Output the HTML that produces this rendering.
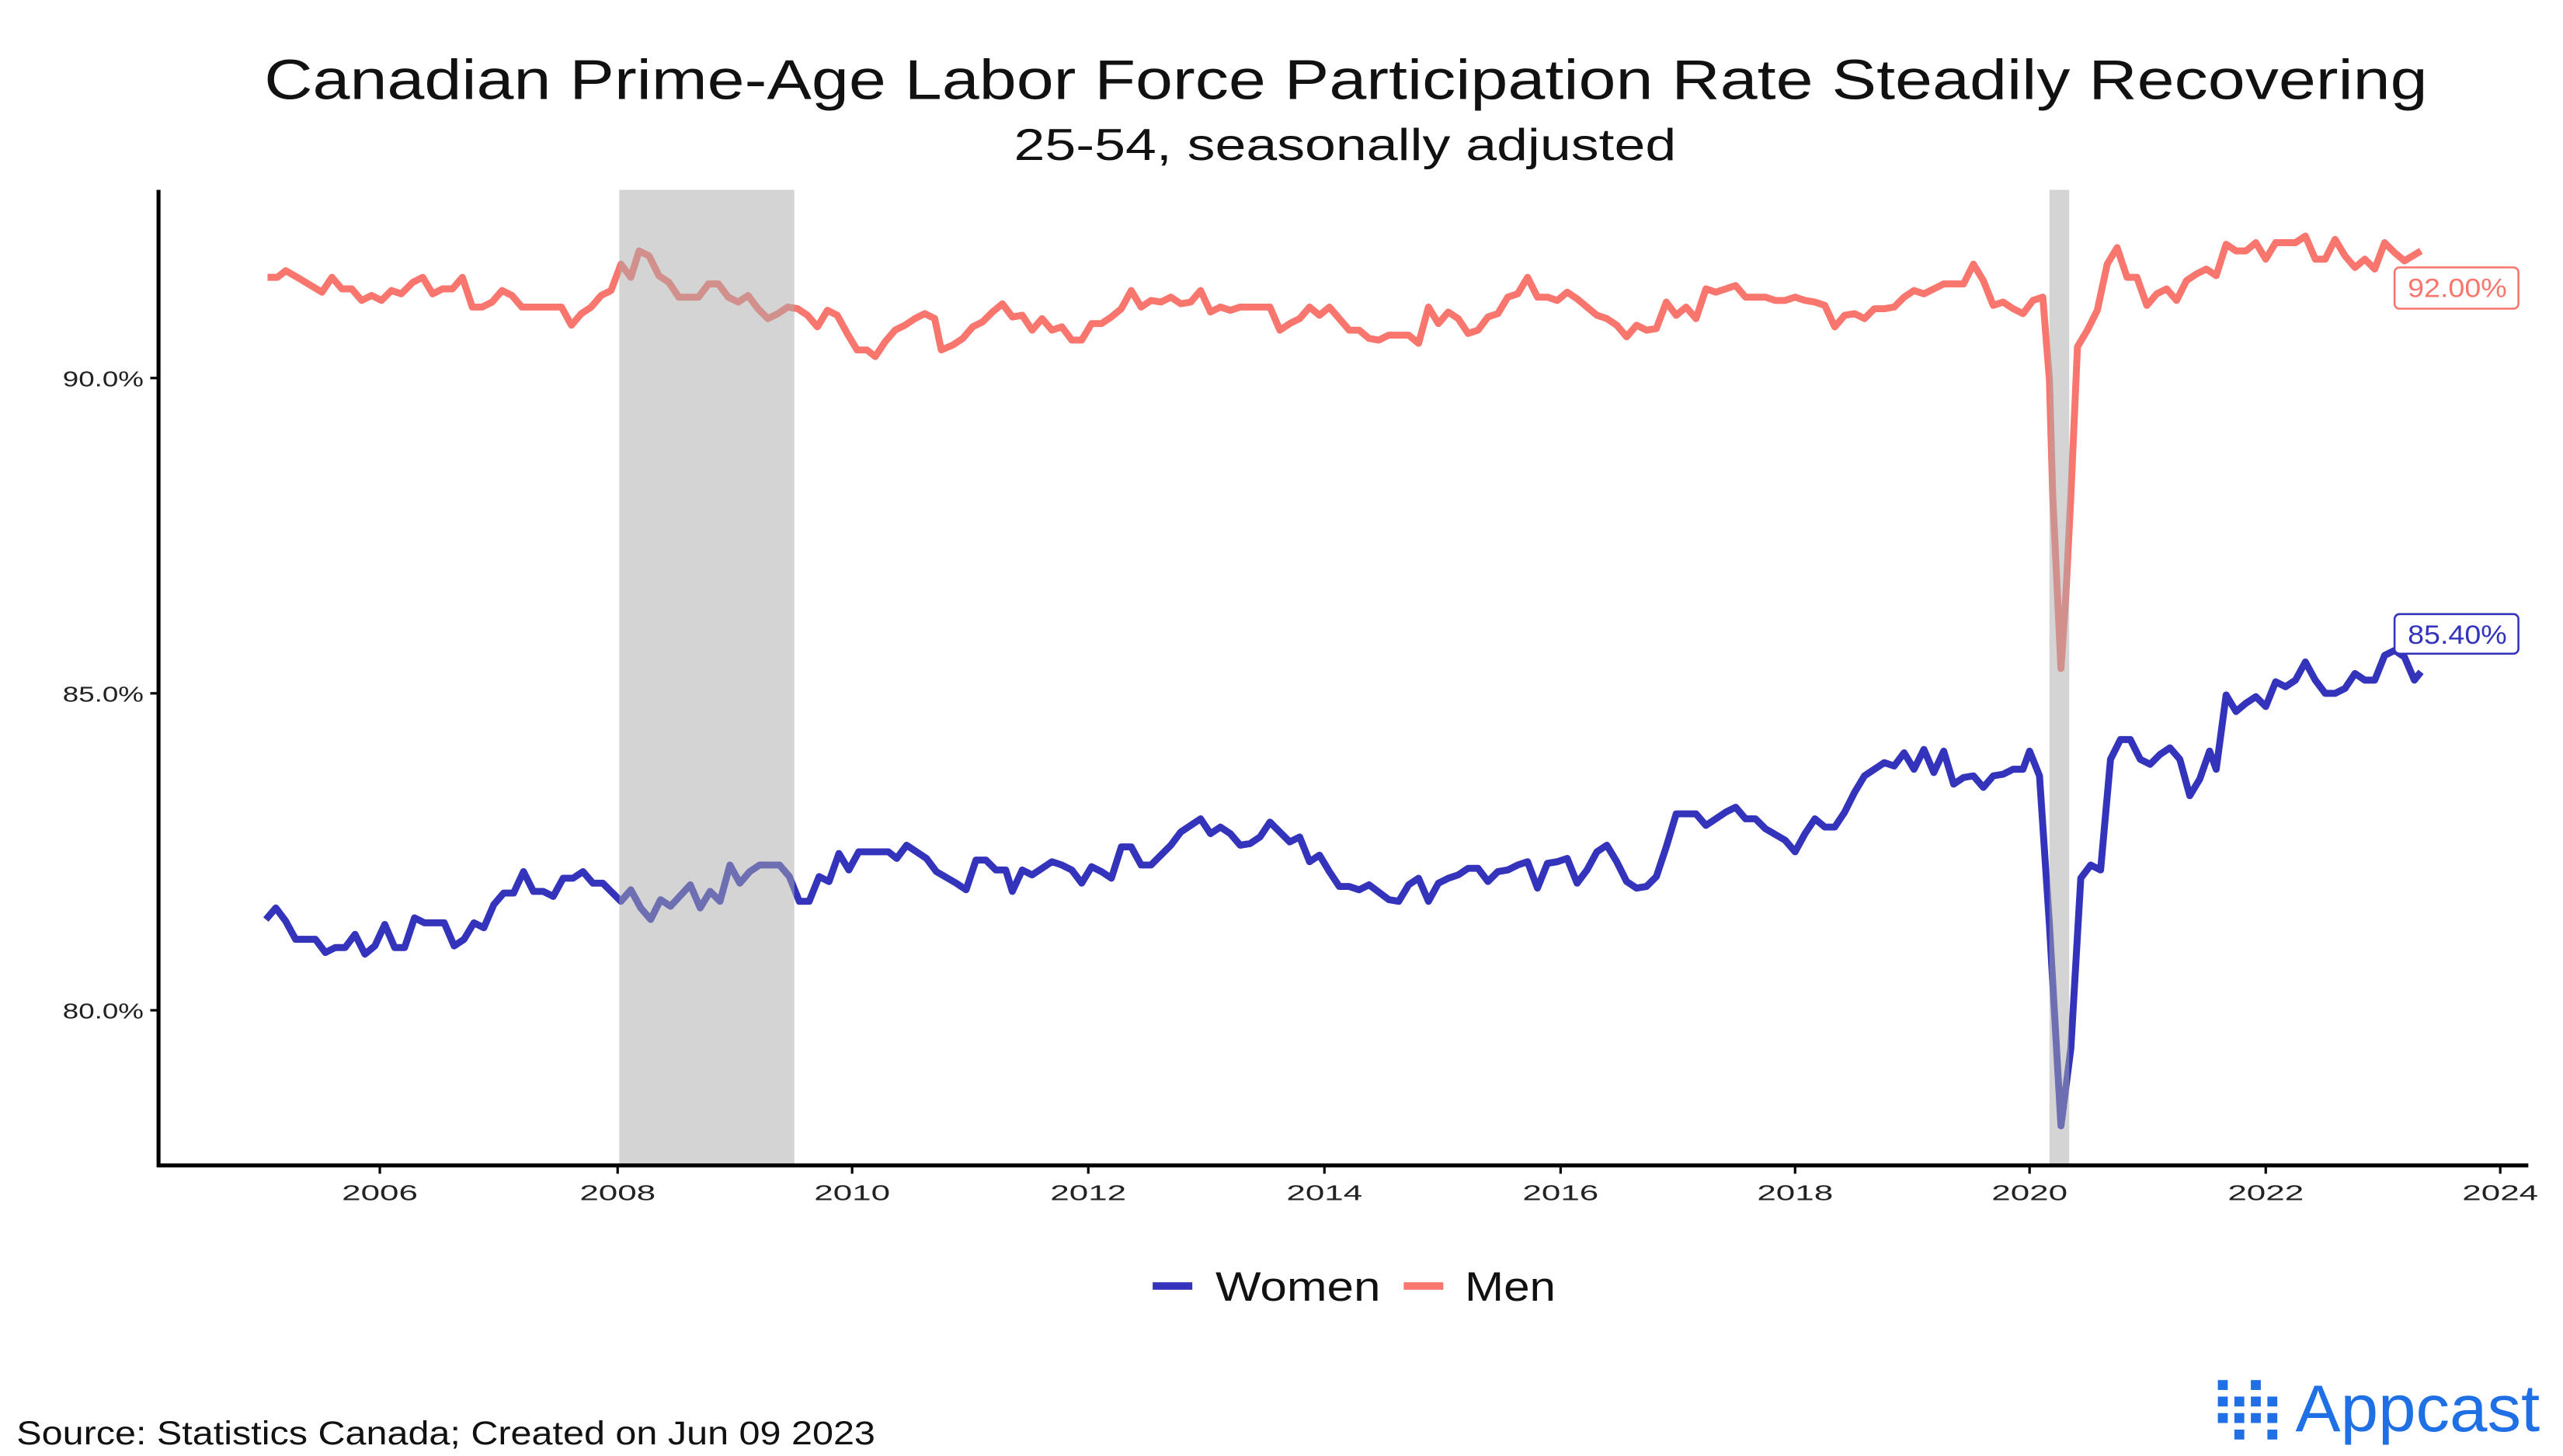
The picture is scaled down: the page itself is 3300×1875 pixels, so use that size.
<!DOCTYPE html>
<html><head><meta charset="utf-8"><style>
html,body{margin:0;padding:0;background:#fff;}
svg{display:block;}
text{font-family:"Liberation Sans",sans-serif;}
</style></head><body>
<svg width="3300" height="1875" viewBox="0 0 1552 882" preserveAspectRatio="none" xmlns="http://www.w3.org/2000/svg">
<rect width="1552" height="882" fill="#fff"/>
<text x="160" y="60" font-size="34" fill="#111" textLength="1310" lengthAdjust="spacingAndGlyphs">Canadian Prime-Age Labor Force Participation Rate Steadily Recovering</text>
<text x="614" y="97" font-size="27" fill="#111" textLength="401" lengthAdjust="spacingAndGlyphs">25-54, seasonally adjusted</text>

<polyline fill="none" stroke="#F8766D" stroke-width="4.2" stroke-linejoin="round" points="162,168 168,168 173,164 180,168 195,177 201,168 207,175 213,175 219,182 225,179 231,182 237,176 243,178 250,171 256,168 262,178 268,175 274,175 280,168 286,186 292,186 298,183 304,176 310,179 316,186 322,186 340,186 346,197 352,190 358,186 364,179 370,176 376,160 382,168 387,152 393,155 399,167 405,171 411,180 423,180 429,172 435,172 441,180 447,183 453,179 459,187 465,193 471,190 477,186 483,187 489,191 495,198 501,188 507,191 513,202 519,212 525,212 530,216 536,207 542,200 548,197 554,193 560,190 566,193 570,212 577,209 583,205 589,198 595,195 601,189 607,184 613,192 619,191 625,200 631,193 637,200 643,198 649,206 655,206 661,196 667,196 673,192 679,187 685,176 691,186 697,182 703,183 709,180 715,184 721,183 727,176 733,189 739,186 745,188 751,186 769,186 775,200 781,196 787,193 793,186 799,191 805,186 811,193 817,200 823,200 829,205 835,206 841,203 853,203 859,208 865,186 871,196 877,189 883,193 889,202 895,200 901,192 907,190 913,180 919,178 925,168 931,180 937,180 943,182 949,177 955,181 961,186 967,191 973,193 979,197 985,204 991,197 997,200 1003,199 1009,183 1015,191 1021,186 1027,193 1033,175 1039,177 1045,175 1051,173 1057,180 1063,180 1069,180 1075,182 1081,182 1087,180 1093,182 1099,183 1105,185 1111,198 1117,191 1123,190 1129,193 1135,187 1141,187 1147,186 1153,180 1159,176 1165,178 1171,175 1177,172 1183,172 1189,172 1195,160 1201,170 1207,185 1213,183 1219,187 1225,190 1231,182 1237,180 1241,230 1243,300 1248,405 1251,360 1254,300 1258,210 1264,200 1270,188 1276,160 1282,150 1288,168 1294,168 1300,185 1306,178 1312,175 1318,182 1324,170 1330,166 1336,163 1342,167 1348,148 1354,152 1360,152 1366,147 1372,157 1378,147 1384,147 1390,147 1396,143 1402,157 1408,157 1414,145 1420,155 1426,162 1432,157 1438,163 1444,147 1450,153 1456,158 1466,152"/>

<polyline fill="none" stroke="#3333BB" stroke-width="4.2" stroke-linejoin="round" points="161,557 167,550 173,558 179,569 191,569 197,577 203,574 209,574 215,566 221,578 227,573 233,560 239,574 245,574 251,556 257,559 269,559 275,573 281,569 287,559 293,562 299,548 305,541 311,541 317,528 323,540 329,540 335,543 341,532 347,532 353,528 359,535 365,535 376,546 382,539 388,550 394,557 400,545 406,549 418,536 424,550 430,540 436,546 442,524 448,535 454,528 460,524 472,524 478,531 484,546 490,546 496,531 502,534 508,517 514,527 520,516 538,516 543,520 549,512 555,516 561,520 567,528 579,535 585,539 591,521 597,521 603,527 609,527 613,540 619,527 625,530 631,526 637,522 643,524 649,527 655,535 661,525 667,528 673,532 679,513 685,513 691,524 697,524 703,518 709,512 715,504 721,500 727,496 733,505 739,501 745,505 751,512 757,511 763,507 769,498 775,504 781,510 787,507 793,522 799,518 805,528 811,537 817,537 823,539 829,536 841,545 847,546 853,536 859,532 865,546 871,535 877,532 883,530 889,526 895,526 901,534 907,528 913,527 919,524 925,522 931,538 937,523 943,522 949,520 955,535 961,527 967,516 973,512 979,522 985,534 991,538 997,537 1003,531 1009,513 1015,493 1027,493 1033,500 1045,492 1051,489 1057,496 1063,496 1069,502 1081,509 1087,516 1093,505 1099,496 1105,501 1111,501 1117,492 1123,480 1129,470 1135,466 1141,462 1147,464 1153,456 1159,466 1165,454 1171,468 1177,455 1183,475 1189,471 1195,470 1201,477 1207,470 1213,469 1219,466 1225,466 1229,455 1235,470 1241,560 1248,682 1254,635 1260,532 1266,524 1272,527 1278,460 1284,448 1290,448 1296,460 1302,463 1308,457 1314,453 1320,460 1326,482 1332,472 1338,455 1342,466 1348,421 1354,431 1360,426 1366,422 1372,428 1378,413 1384,416 1390,412 1396,401 1402,412 1408,420 1414,420 1420,417 1426,408 1432,412 1438,412 1444,397 1450,394 1456,398 1462,412 1466,407"/>

<rect x="375" y="115" width="106" height="591" fill="#a9a9a9" opacity="0.5"/>
<rect x="1241" y="115" width="12" height="591" fill="#a9a9a9" opacity="0.5"/>

<line x1="96" y1="115" x2="96" y2="707" stroke="#000" stroke-width="2.4"/>
<line x1="95" y1="706" x2="1531" y2="706" stroke="#000" stroke-width="2.4"/>
<g stroke="#000" stroke-width="1.5">
<line x1="91" y1="229" x2="96" y2="229"/><line x1="91" y1="420" x2="96" y2="420"/><line x1="91" y1="612" x2="96" y2="612"/>
<line x1="230" y1="706" x2="230" y2="711"/><line x1="374" y1="706" x2="374" y2="711"/><line x1="516" y1="706" x2="516" y2="711"/><line x1="659" y1="706" x2="659" y2="711"/><line x1="802" y1="706" x2="802" y2="711"/><line x1="945" y1="706" x2="945" y2="711"/><line x1="1087" y1="706" x2="1087" y2="711"/><line x1="1229" y1="706" x2="1229" y2="711"/><line x1="1372" y1="706" x2="1372" y2="711"/><line x1="1514" y1="706" x2="1514" y2="711"/>
</g>
<g font-size="13" fill="#222" text-anchor="end">
<text x="87" y="234" textLength="49" lengthAdjust="spacingAndGlyphs">90.0%</text><text x="87" y="425" textLength="49" lengthAdjust="spacingAndGlyphs">85.0%</text><text x="87" y="617" textLength="49" lengthAdjust="spacingAndGlyphs">80.0%</text>
</g>
<g font-size="13" fill="#222">
<text x="207" y="727" textLength="46" lengthAdjust="spacingAndGlyphs">2006</text><text x="351" y="727" textLength="46" lengthAdjust="spacingAndGlyphs">2008</text><text x="493" y="727" textLength="46" lengthAdjust="spacingAndGlyphs">2010</text><text x="636" y="727" textLength="46" lengthAdjust="spacingAndGlyphs">2012</text><text x="779" y="727" textLength="46" lengthAdjust="spacingAndGlyphs">2014</text><text x="922" y="727" textLength="46" lengthAdjust="spacingAndGlyphs">2016</text><text x="1064" y="727" textLength="46" lengthAdjust="spacingAndGlyphs">2018</text><text x="1206" y="727" textLength="46" lengthAdjust="spacingAndGlyphs">2020</text><text x="1349" y="727" textLength="46" lengthAdjust="spacingAndGlyphs">2022</text><text x="1491" y="727" textLength="46" lengthAdjust="spacingAndGlyphs">2024</text>
</g>

<rect x="1450" y="162" width="75" height="25" rx="3" fill="#fff" stroke="#F8766D" stroke-width="1.2"/>
<text x="1458" y="180" font-size="16" fill="#F8766D" textLength="60" lengthAdjust="spacingAndGlyphs">92.00%</text>
<rect x="1450" y="372" width="75" height="24" rx="3" fill="#fff" stroke="#3333BB" stroke-width="1.2"/>
<text x="1458" y="390" font-size="16" fill="#3333BB" textLength="60" lengthAdjust="spacingAndGlyphs">85.40%</text>

<line x1="698" y1="779" x2="722" y2="779" stroke="#3333BB" stroke-width="4.5"/>
<text x="736" y="788" font-size="25" fill="#111" textLength="100" lengthAdjust="spacingAndGlyphs">Women</text>
<line x1="850" y1="779" x2="874" y2="779" stroke="#F8766D" stroke-width="4.5"/>
<text x="887" y="788" font-size="25" fill="#111" textLength="55" lengthAdjust="spacingAndGlyphs">Men</text>

<text x="10" y="875" font-size="20" fill="#111" textLength="520" lengthAdjust="spacingAndGlyphs">Source: Statistics Canada; Created on Jun 09 2023</text>
<g fill="#1f6fe5">
<rect x="1343" y="836" width="6" height="6"/><rect x="1343" y="846" width="6" height="6"/><rect x="1343" y="856" width="6" height="6"/>
<rect x="1353" y="846" width="6" height="6"/><rect x="1353" y="856" width="6" height="6"/><rect x="1353" y="866" width="6" height="6"/>
<rect x="1363" y="836" width="6" height="6"/><rect x="1363" y="846" width="6" height="6"/><rect x="1363" y="856" width="6" height="6"/>
<rect x="1373" y="846" width="6" height="6"/><rect x="1373" y="856" width="6" height="6"/><rect x="1373" y="866" width="6" height="6"/>
<text x="1390" y="867" font-size="40" textLength="148" lengthAdjust="spacingAndGlyphs">Appcast</text>
</g>
</svg>
</body></html>
